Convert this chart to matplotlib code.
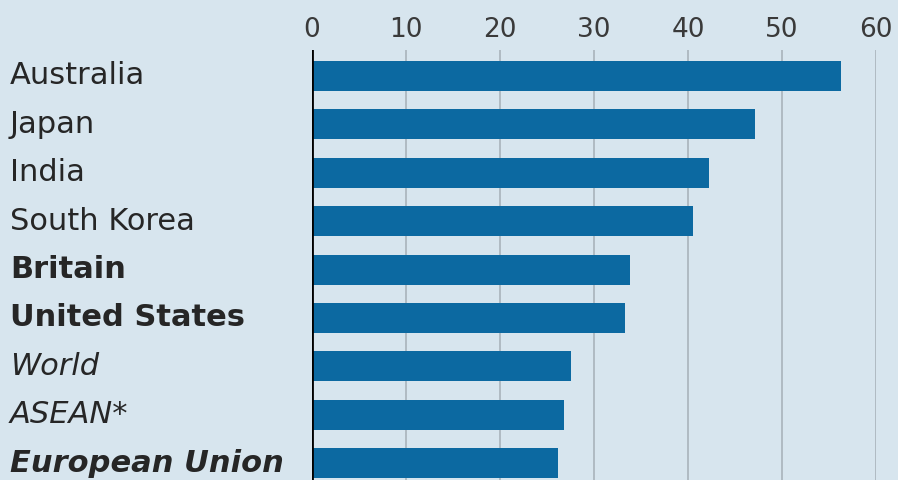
import matplotlib.pyplot as plt
from matplotlib.transforms import blended_transform_factory

# data
countries = ["Australia", "Japan", "India", "South Korea", "Britain",
             "United States", "World", "ASEAN*", "European Union"]
values = [56.3, 47.1, 42.2, 40.5, 33.8, 33.3, 27.6, 26.8, 26.2]
styles = ["normal", "normal", "normal", "normal", "bold",
          "bold", "italic", "italic", "bolditalic"]
ticks = [0, 10, 20, 30, 40, 50, 60]

bg = "#d7e5ee"
bar_col = "#0c69a1"
grid_col = "#a9b3bb"
text_col = "#262626"
font = "DejaVu Sans"

fig = plt.figure(figsize=(8.98, 4.8), dpi=100, facecolor=bg)
ax = fig.add_axes([312 / 898, 0.0, (876 - 312) / 898, 1 - 50 / 480])
ax.set_facecolor(bg)

pos = list(range(len(countries)))
ax.barh(pos, values, height=0.62, color=bar_col, zorder=3)

ax.set_xlim(0, 60)
ax.set_ylim(8.347, -0.537)

# vertical gridlines, black zero line
for t in ticks[1:]:
    ax.axvline(t, color=grid_col, lw=1.2, zorder=1)
ax.axvline(0, color="black", lw=2, zorder=4)

for s in ax.spines.values():
    s.set_visible(False)
ax.xaxis.tick_top()
ax.set_xticks(ticks)
ax.set_xticklabels([str(t) for t in ticks], fontsize=19, color="#3a3a3a",
                   fontfamily=font)
ax.tick_params(axis="x", length=0, pad=5)
ax.set_yticks([])

# country labels, left aligned at the figure edge
tr = blended_transform_factory(fig.transFigure, ax.transData)
for p, name, st in zip(pos, countries, styles):
    weight = "bold" if "bold" in st else "normal"
    style = "italic" if "italic" in st else "normal"
    ax.text(10 / 898, p, name, transform=tr, ha="left", va="center",
            fontsize=22, color=text_col, fontfamily=font,
            fontweight=weight, fontstyle=style)

fig.savefig("out.png", dpi=100, facecolor=bg)
